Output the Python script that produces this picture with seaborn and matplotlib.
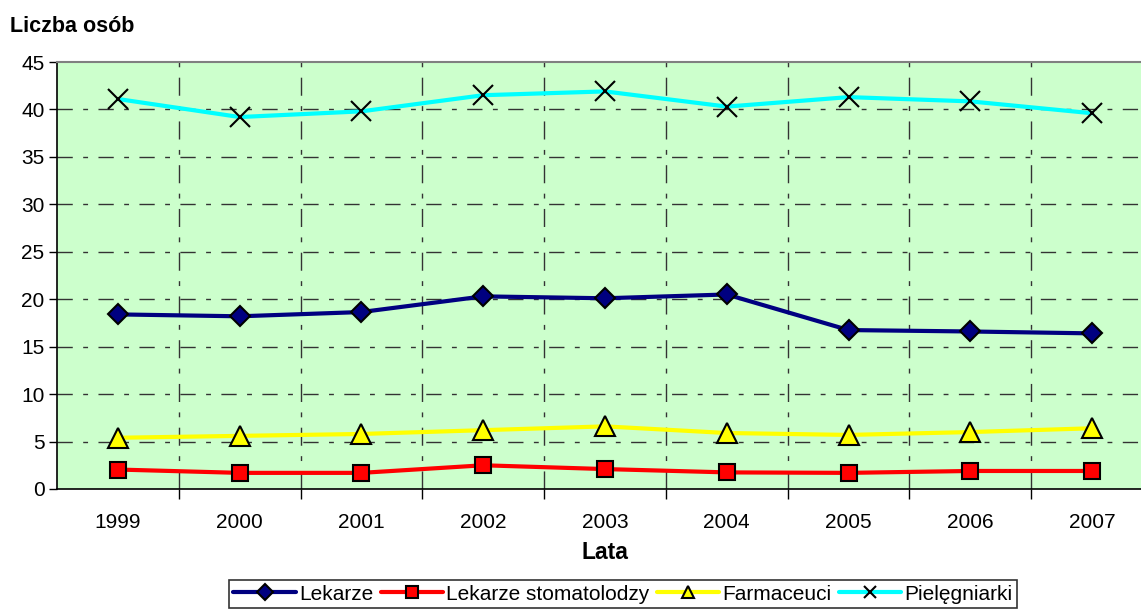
#!/usr/bin/env python3
"""
Liczba osób personelu medycznego w latach 1999-2007.
"""
import numpy as np
import pandas as pd
import matplotlib
matplotlib.use('Agg')
import matplotlib.pyplot as plt
import seaborn as sns

# Data
years = ['1999', '2000', '2001', '2002', '2003', '2004', '2005', '2006', '2007']
lekarze = [18.4, 18.2, 18.65, 20.3, 20.1, 20.5, 16.75, 16.6, 16.4]
stomatolodzy = [2.05, 1.7, 1.7, 2.5, 2.1, 1.75, 1.7, 1.9, 1.9]
farmaceuci = [5.4, 5.6, 5.8, 6.2, 6.6, 5.9, 5.7, 6.0, 6.4]
pielegniarki = [41.1, 39.2, 39.8, 41.5, 41.9, 40.3, 41.3, 40.85, 39.6]

series_names = ['Lekarze', 'Lekarze stomatolodzy', 'Farmaceuci', 'Pielęgniarki']
yticks = [0, 5, 10, 15, 20, 25, 30, 35, 40, 45]


def build_frame():
    """Long-form table for seaborn."""
    rows = []
    for name, vals in zip(series_names, [lekarze, stomatolodzy, farmaceuci, pielegniarki]):
        for i, v in enumerate(vals):
            rows.append({'pos': i, 'rok': years[i], 'seria': name, 'wartosc': v})
    return pd.DataFrame(rows)


def main():
    sns.set_theme(style='white')
    plt.rcParams['font.family'] = ['Liberation Sans', 'DejaVu Sans']
    plt.rcParams['text.color'] = 'black'
    plt.rcParams['axes.labelcolor'] = 'black'
    plt.rcParams['xtick.color'] = 'black'
    plt.rcParams['ytick.color'] = 'black'

    df = build_frame()

    fig = plt.figure(figsize=(11.41, 6.13), dpi=100)
    # plot area runs slightly past the right edge, as in the original
    ax = fig.add_axes([57 / 1141, 1 - 489 / 613, 1096 / 1141, 427 / 613])
    ax.set_facecolor('#CCFFCC')

    styles = {
        'Lekarze': dict(color='#000080', marker='D', markersize=10, mfc='#000080', mec='black'),
        'Lekarze stomatolodzy': dict(color='#FF0000', marker='s', markersize=11, mfc='#FF0000', mec='black'),
        'Farmaceuci': dict(color='#FFFF00', marker='^', markersize=14, mfc='#FFFF00', mec='black'),
        'Pielęgniarki': dict(color='#00FFFF', marker='x', markersize=14, mfc='black', mec='black'),
    }

    handles = []
    for name in series_names:
        st = styles[name]
        sub = df[df['seria'] == name]
        sns.lineplot(data=sub, x='pos', y='wartosc', ax=ax, color=st['color'], lw=3,
                     marker=st['marker'], markersize=st['markersize'],
                     markerfacecolor=st['mfc'], markeredgecolor=st['mec'],
                     markeredgewidth=1.5, zorder=3)
        handles.append(ax.lines[-1])

    ax.set_xlim(-0.5, 8.5)
    ax.set_ylim(0, 45)
    ax.set_yticks(yticks)
    ax.set_xticks(range(len(years)))
    ax.set_xticklabels(years)
    ax.set_xticks(np.arange(0.5, 8.5, 1), minor=True)

    ax.tick_params(axis='y', which='major', direction='out', length=6, width=1,
                   color='black', left=True, labelsize=15, pad=3)
    ax.tick_params(axis='x', which='major', length=0, labelsize=15, pad=17)
    ax.tick_params(axis='x', which='minor', direction='out', length=7, width=1,
                   color='black', bottom=True)

    # dashed grid
    ax.grid(False)
    for y in yticks[1:-1]:
        ax.axhline(y, color='#333333', lw=1, dashes=(11, 7.5, 3.5, 7.5), zorder=1)
    for x in np.arange(0.5, 8.5, 1):
        ax.axvline(x, color='#333333', lw=1, dashes=(13, 7.5, 3.5, 7.5), zorder=1)

    for side in ['left', 'bottom']:
        ax.spines[side].set_color('black')
        ax.spines[side].set_linewidth(1.2)
    ax.spines['top'].set_color('#808080')
    ax.spines['top'].set_linewidth(1.5)
    ax.spines['right'].set_visible(False)

    ax.set_xlabel('Lata', fontsize=16.5, fontweight='bold', labelpad=7)
    ax.set_ylabel('')
    fig.text(10 / 1141, 1 - 27 / 613, 'Liczba osób', fontsize=15.5, fontweight='bold',
             va='center', ha='left')

    leg = fig.legend(handles, series_names, loc='center', bbox_to_anchor=(623 / 1141, 1 - 594 / 613),
                     ncol=4, fontsize=15, frameon=True, fancybox=False, handlelength=3.0,
                     handletextpad=0.15, columnspacing=0.35, borderpad=0.2)
    leg.get_frame().set_edgecolor('black')
    leg.get_frame().set_linewidth(1.2)
    for h in leg.legend_handles:
        h.set_markersize(8)

    fig.savefig('out.png', dpi=100)
    plt.close(fig)


if __name__ == "__main__":
    main()
